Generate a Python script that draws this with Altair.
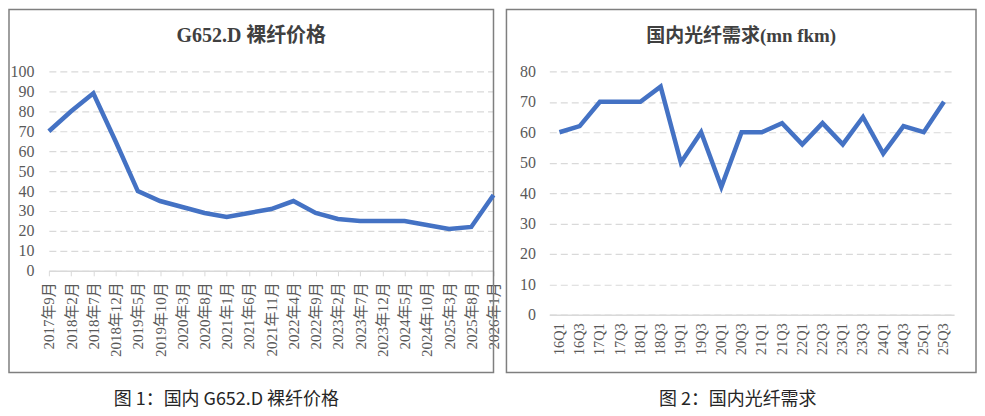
import altair as alt
import pandas as pd

# ---- data ----
left_title = "G652.D 裸纤价格"
left_caption = "图 1：国内 G652.D 裸纤价格"
left_labels = ["2017年9月", "2018年2月", "2018年7月", "2018年12月", "2019年5月", "2019年10月",
               "2020年3月", "2020年8月", "2021年1月", "2021年6月", "2021年11月", "2022年4月",
               "2022年9月", "2023年2月", "2023年7月", "2023年12月", "2024年5月", "2024年10月",
               "2025年3月", "2025年8月", "2026年1月"]
left_values = [70, 80, 89, 65, 40, 35, 32, 29, 27, 29, 31, 35, 29, 26, 25, 25, 25, 23, 21, 22, 38]

right_title = "国内光纤需求(mn fkm)"
right_caption = "图 2：国内光纤需求"
right_labels = ["16Q1", "16Q3", "17Q1", "17Q3", "18Q1", "18Q3", "19Q1", "19Q3", "20Q1", "20Q3",
                "21Q1", "21Q3", "22Q1", "22Q3", "23Q1", "23Q3", "24Q1", "24Q3", "25Q1", "25Q3"]
right_values = [60, 62, 70, 70, 70, 75, 50, 60, 42, 60, 60, 63, 56, 63, 56, 65, 53, 62, 60, 70]

LINE = "#4472C4"
GRID = "#d9d9d9"
LABEL = "#595959"
SERIF = "'Liberation Serif', 'Times New Roman', 'Noto Sans CJK SC', serif"
CJK = "'Noto Sans CJK SC', sans-serif"


def panel(labels, values, title, caption, w, h, ymax, padding, ticks, frame,
          title_y, cap_x, ysize, xsize, tsize, xpad, ypad):
    df = pd.DataFrame({"cat": labels, "val": values})
    x = alt.X("cat:O", sort=labels, title=None,
              scale=alt.Scale(type="point", padding=padding),
              axis=alt.Axis(labelAngle=-90, labelFont=SERIF, labelFontSize=xsize,
                            labelColor=LABEL, grid=False, domainColor=GRID,
                            domainWidth=1.5, ticks=ticks, tickColor=GRID,
                            tickSize=5, labelPadding=xpad))
    y = alt.Y("val:Q", title=None,
              scale=alt.Scale(domain=[0, ymax], nice=False, zero=True),
              axis=alt.Axis(values=list(range(0, ymax + 1, 10)), labelFont=SERIF,
                            labelFontSize=ysize, labelColor=LABEL, domain=False,
                            ticks=False, gridColor=GRID, gridDash=[7, 4],
                            gridWidth=1.2, labelPadding=ypad))
    line = alt.Chart(df).mark_line(color=LINE, strokeWidth=4.5,
                                   strokeJoin="miter").encode(x=x, y=y)
    one = pd.DataFrame({"t": [title], "c": [caption]})
    fx, fx2, fy, fy2 = frame
    box = alt.Chart(one).mark_rect(fillOpacity=0, stroke="#7f7f7f", strokeWidth=1.5).encode(
        x=alt.value(fx), x2=alt.value(fx2), y=alt.value(fy), y2=alt.value(fy2))
    ttl = alt.Chart(one).mark_text(font=SERIF, fontSize=tsize, fontWeight="bold",
                                   color="#404040", baseline="middle").encode(
        x=alt.value((fx + fx2) / 2), y=alt.value(title_y), text="t:N")
    cap = alt.Chart(one).mark_text(font=CJK, fontSize=18, color="#262626",
                                   baseline="middle").encode(
        x=alt.value(cap_x), y=alt.value(330), text="c:N")
    return alt.layer(box, line, ttl, cap).properties(width=w, height=h)


left = panel(left_labels, left_values, left_title, left_caption, 446, 200, 100, 0, True,
             (-40, 446, -62, 302), -36, 178, 16, 15, 20, 6, 15)
right = panel(right_labels, right_values, right_title, right_caption, 406, 244, 80, 0.5, False,
              (-43, 428, -62, 302), -36, 189, 16, 14.5, 19, 8, 14)

chart = alt.hconcat(left, right, spacing=56, bounds="flush").properties(
    padding=0, background="white"
).configure_view(stroke=None)

chart.save("out.html", embed_options={"renderer": "svg", "actions": False})
